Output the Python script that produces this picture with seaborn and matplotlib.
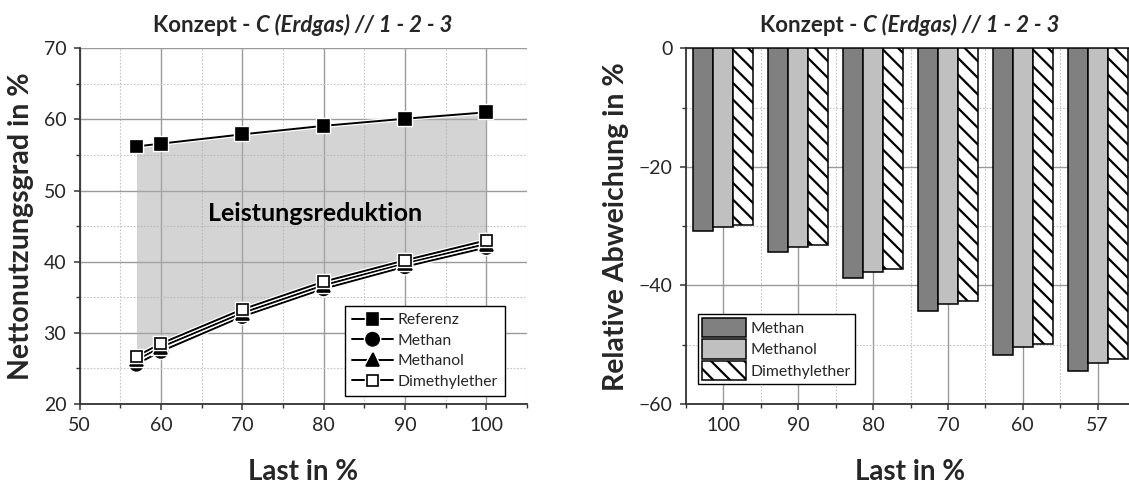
import numpy as np
import pandas as pd
import matplotlib
matplotlib.use("Agg")
import matplotlib.pyplot as plt
import matplotlib.patheffects as pe
from matplotlib.ticker import MultipleLocator, FixedLocator
import seaborn as sns

# ---- data -------------------------------------------------------------
last = [57, 60, 70, 80, 90, 100]
referenz = [56.2, 56.6, 57.9, 59.1, 60.1, 61.0]
methan = [25.6, 27.4, 32.3, 36.2, 39.3, 42.0]
methanol = [26.2, 28.0, 32.8, 36.7, 39.8, 42.5]
dimethylether = [26.7, 28.5, 33.3, 37.2, 40.2, 43.0]

last_cat = ["100", "90", "80", "70", "60", "57"]
abw_methan = [-30.9, -34.4, -38.7, -44.3, -51.8, -54.5]
abw_methanol = [-30.2, -33.6, -37.8, -43.2, -50.4, -53.1]
abw_dme = [-29.8, -33.1, -37.3, -42.7, -49.8, -52.4]

fuels = ["Methan", "Methanol", "Dimethylether"]
title_plain = "Konzept - "
title_italic = "C (Erdgas) // 1 - 2 - 3"

# ---- style ------------------------------------------------------------
sns.set_theme(style="white")
plt.rcParams["font.family"] = ["Lato", "DejaVu Sans"]
plt.rcParams["hatch.linewidth"] = 1.6
plt.rcParams["axes.edgecolor"] = "#333333"

W, H = 1129, 484
fig = plt.figure(figsize=(W / 100, H / 100), dpi=100)

def frac_box(x0, x1, y_top, y_bot):
    return [x0 / W, 1 - y_bot / H, (x1 - x0) / W, (y_bot - y_top) / H]

ax1 = fig.add_axes(frac_box(79.5, 527, 48.3, 404))
ax2 = fig.add_axes(frac_box(686, 1135, 48.3, 404))

TICK_FS = 14
LABEL_FS = 20.5
XLABEL_FS = 20
LEG_FS = 11.3
TITLE_FS = 16
MAJ_GRID = dict(color="#9a9a9a", linewidth=1.0, linestyle="-")
MIN_GRID = dict(color="#c4c4c4", linewidth=0.8, linestyle=(0, (1.5, 1.5)))

def style_axes(ax):
    for s in ["top", "right"]:
        ax.spines[s].set_visible(False)
    for s in ["left", "bottom"]:
        ax.spines[s].set_linewidth(1.3)
        ax.spines[s].set_color("#333333")
    ax.tick_params(which="major", direction="out", length=4.5, width=1.1,
                   color="#333333", labelsize=TICK_FS, pad=5,
                   bottom=True, left=True)
    ax.tick_params(which="minor", direction="out", length=3, width=1.0,
                   color="#333333", bottom=True, left=True)
    ax.grid(True, which="major", **MAJ_GRID)
    ax.grid(True, which="minor", **MIN_GRID)

# ---- left: net efficiency vs. load ------------------------------------
df_l = pd.DataFrame({"Last": last, "Referenz": referenz, "Methan": methan,
                     "Methanol": methanol, "Dimethylether": dimethylether})

ax1.fill_between(df_l["Last"], df_l["Dimethylether"], df_l["Referenz"],
                 color="#adadad", alpha=0.52, linewidth=0, zorder=1.5)

series = [
    ("Referenz", "s", "black", 8.5),
    ("Methan", "o", "black", 9.5),
    ("Methanol", "^", "black", 9.5),
    ("Dimethylether", "s", "white", 8.0),
]
halo = [pe.Stroke(linewidth=3.2, foreground="white"), pe.Normal()]
for name, mk, face, ms in series:
    sns.lineplot(data=df_l, x="Last", y=name, ax=ax1, color="black",
                 linewidth=1.4, marker=mk, markersize=ms,
                 markerfacecolor=face, markeredgecolor="black",
                 markeredgewidth=1.2, label=name, zorder=3)
for ln in ax1.get_lines():
    ln.set_path_effects(halo)

ax1.set_xlim(50, 105)
ax1.set_ylim(20, 70)
ax1.xaxis.set_major_locator(FixedLocator([50, 60, 70, 80, 90, 100]))
ax1.xaxis.set_minor_locator(MultipleLocator(5))
ax1.yaxis.set_major_locator(MultipleLocator(10))
ax1.yaxis.set_minor_locator(MultipleLocator(5))
style_axes(ax1)
ax1.set_axisbelow(True)

ax1.text(78.9, 46.8, "Leistungsreduktion", fontsize=18, fontweight="bold",
         ha="center", va="center", color="black", zorder=4)

ax1.set_xlabel("Last in %", fontsize=XLABEL_FS, fontweight="bold")
ax1.set_ylabel("Nettonutzungsgrad in %", fontsize=LABEL_FS, fontweight="bold")
ax1.xaxis.set_label_coords(0.5, -0.155)
ax1.yaxis.set_label_coords(-0.102, 0.5)

leg1 = ax1.legend(loc="lower right",
                  bbox_to_anchor=((505 - 79.5) / 447.5, (404 - 396) / 355.7),
                  fontsize=LEG_FS, frameon=True, fancybox=False,
                  edgecolor="black", framealpha=1, handlelength=2.6,
                  labelspacing=0.42, borderpad=0.45, handletextpad=0.3,
                  borderaxespad=0)
leg1.get_frame().set_linewidth(1.0)
leg1.set_zorder(5)

# ---- right: relative deviation per load -------------------------------
df_r = pd.DataFrame({
    "Last": last_cat * 3,
    "Kraftstoff": [f for f in fuels for _ in last_cat],
    "Abweichung": abw_methan + abw_methanol + abw_dme,
})
sns.barplot(data=df_r, x="Last", y="Abweichung", hue="Kraftstoff",
            order=last_cat, hue_order=fuels,
            palette=["#808080", "#c0c0c0", "#ffffff"], width=0.8,
            edgecolor="black", linewidth=1.1, saturation=1, legend=False,
            ax=ax2, zorder=3)
for p in ax2.containers[2].patches:
    p.set_hatch("\\\\")
    p.set_facecolor("white")

ax2.set_xlim(-0.5, 5.5)
ax2.set_ylim(-60, 0)
ax2.xaxis.set_major_locator(FixedLocator(range(6)))
ax2.xaxis.set_minor_locator(FixedLocator(np.arange(-0.5, 6, 1)))
ax2.yaxis.set_major_locator(MultipleLocator(20))
ax2.yaxis.set_minor_locator(MultipleLocator(10))
ax2.set_xticklabels(last_cat)
style_axes(ax2)
ax2.spines["top"].set_visible(True)
ax2.spines["top"].set_linewidth(1.3)
ax2.set_axisbelow(True)

ax2.set_xlabel("Last in %", fontsize=XLABEL_FS, fontweight="bold")
ax2.set_ylabel("Relative Abweichung in %", fontsize=LABEL_FS, fontweight="bold")
ax2.xaxis.set_label_coords(0.5, -0.155)
ax2.yaxis.set_label_coords(-0.127, 0.5)

leg2 = ax2.legend(ax2.containers, fuels,
                  loc="lower left",
                  bbox_to_anchor=((698 - 686) / 449, (404 - 384) / 355.7),
                  fontsize=LEG_FS, frameon=True, fancybox=False,
                  edgecolor="black", framealpha=1, handlelength=2.8,
                  handleheight=1.5, labelspacing=0.15, borderpad=0.25,
                  handletextpad=0.3, borderaxespad=0)
leg2.get_frame().set_linewidth(1.0)
leg2.set_zorder(5)

# ---- titles with mixed upright / italic parts --------------------------
fig.canvas.draw()
renderer = fig.canvas.get_renderer()
for cx_px in (303, 910):
    cx = cx_px / W
    y = 1 - 31.7 / H
    t1 = fig.text(0, y, title_plain, fontsize=TITLE_FS, fontweight="bold",
                  ha="left", va="baseline")
    t2 = fig.text(0, y, title_italic, fontsize=TITLE_FS, fontweight="bold",
                  style="italic", ha="left", va="baseline")
    w1 = t1.get_window_extent(renderer).width / W
    w2 = t2.get_window_extent(renderer).width / W
    x0 = cx - (w1 + w2) / 2
    t1.set_x(x0)
    t2.set_x(x0 + w1)

fig.savefig("out.png", dpi=100)
